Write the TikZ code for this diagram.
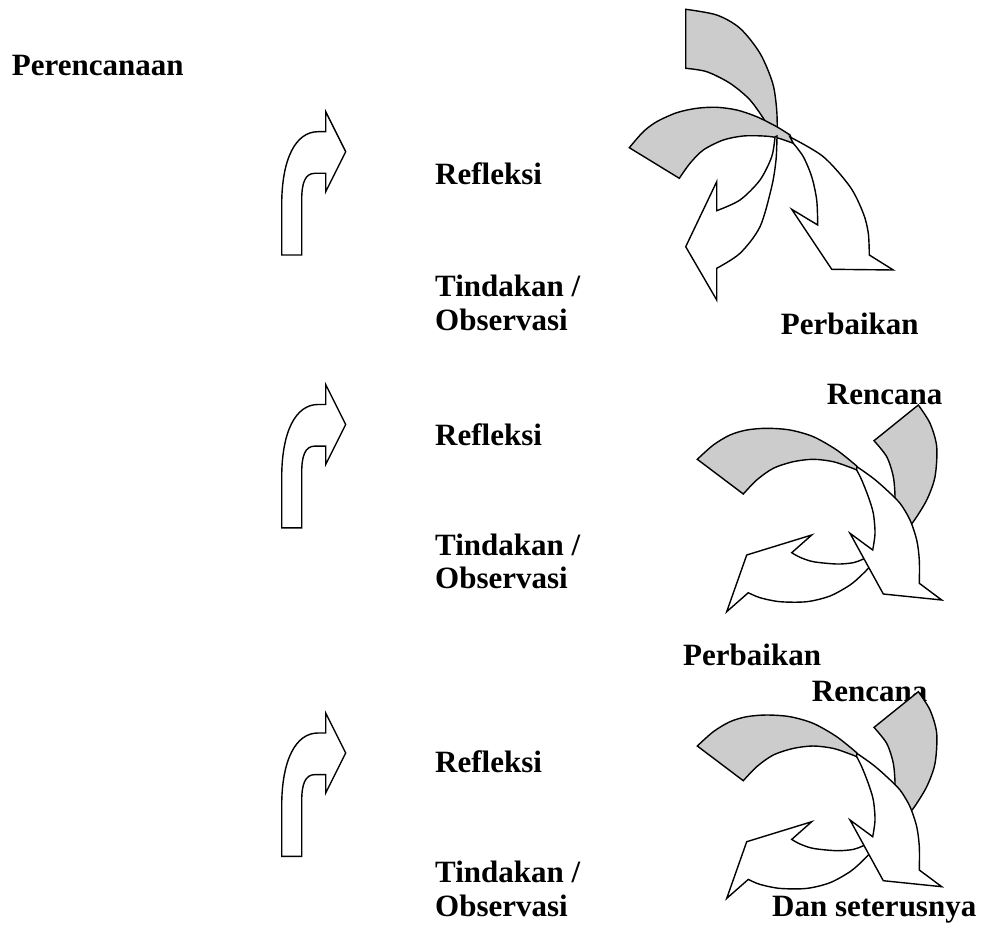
\documentclass[tikz,border=0pt]{standalone}
\usepackage{fontspec}
\setmainfont{Liberation Serif}
\definecolor{shadegray}{RGB}{204,204,204}
\newcommand\mybentarrow{%
  \filldraw[wfill] (281.7,255) -- (281.7,205) .. controls (281.7,158) and (296,131.7) .. (318,131.7)
    -- (325.7,131.7) -- (325.7,111.7) -- (345.7,151.7) -- (325.7,191.7) -- (325.7,173.3)
    -- (315,173.3) .. controls (305,173.3) and (301.7,183) .. (301.7,200) -- (301.7,255) -- cycle;}
\newcommand\myclustertwo{%
  % gray back of right arrow (D)
  \filldraw[gfill] (918.3,405) -- plot[smooth] coordinates {(918.3,405) (930,423.3) (936.7,446.7) (935,476.7) (926.7,500) (913.3,521.7) (905,530)}
    -- (893,510) -- plot[smooth] coordinates {(893,510) (895,498.3) (893.3,476.7) (886.7,456.7) (874,440.7)} -- cycle;
  % white front of arrow D
  \filldraw[wfill] (791.7,552.7) -- (811.7,535) -- (746.7,555) -- (726.7,611.7)
    -- plot[smooth] coordinates {(748.3,592.7) (760,597.7) (780,601.7) (806.7,601.7) (830,596) (850,585) (861.7,575) (868.3,568.3) (874,562)}
    -- (870,556) -- plot[smooth] coordinates {(870,556) (862.7,559.3) (853.3,562.7) (836.7,564) (813.3,561.7) (800,557.3) (791.7,552.7)} -- cycle;
  % gray back of arrow C
  \filldraw[gfill] (697.3,459.3) -- plot[smooth] coordinates {(697.3,459.3) (713.3,445) (730,435) (746.7,430) (766.7,428.3) (790,430) (813.3,436.7) (836.7,450) (856.7,466)}
    -- plot[smooth] coordinates {(856.7,470) (850,467.3) (833.3,461.7) (813.3,459.3) (793.3,461.7) (773.3,468.3) (756.7,480) (743.3,494)} -- cycle;
  % white front of arrow C
  \filldraw[wfill] plot[smooth] coordinates {(856.7,466.5) (873.3,478.3) (886.7,490) (900,503.3) (910,520) (916.7,540) (919.3,560) (919.3,583.3)}
    -- (941.7,600) -- (883.3,594) -- (850,533.3)
    -- plot[smooth] coordinates {(872.7,550) (875,533.3) (873.3,513.3) (868.3,496.7) (861.7,480) (856.7,470)} -- cycle;}
\begin{document}
\begin{tikzpicture}[x=1pt,y=-1pt,
  shp/.style={draw=black, line width=1.4pt, line join=miter},
  wfill/.style={shp, fill=white},
  gfill/.style={shp, fill=shadegray},
  lbl/.style={anchor=base west, inner sep=0pt, font=\fontsize{31}{34}\selectfont\bfseries}]
\fill[white] (0,0) rectangle (984,928);
\useasboundingbox (0,0) rectangle (984,928);

% left column
\node[lbl] (perenc) at (11.7,76) {Perencanaan};

\mybentarrow
\node[lbl] (refl1) at (435,185) {Refleksi};
\node[lbl] (tind1) at (435,296.7) {Tindakan /};
\node[lbl] (obs1) at (435,330) {Observasi};

\begin{scope}[shift={(0,272.8)}]
\mybentarrow
\end{scope}
\node[lbl] (refl2) at (435,445) {Refleksi};
\node[lbl] (tind2) at (435,555) {Tindakan /};
\node[lbl] (obs2) at (435,588.5) {Observasi};

\begin{scope}[shift={(0,601.3)}]
\mybentarrow
\end{scope}
\node[lbl] (refl3) at (435,772.6) {Refleksi};
\node[lbl] (tind3) at (435,882.6) {Tindakan /};
\node[lbl] (obs3) at (435,916) {Observasi};

% top cluster
\filldraw[gfill] plot[smooth] coordinates {(685.7,9.3) (716.7,15) (740,28.3) (760,53.3) (772.7,83.3) (776.7,110) (777.3,135)}
  -- plot[smooth] coordinates {(775,137) (766.7,123.3) (750,100) (730,83.3) (706.7,71.7) (685.7,68.3)} -- cycle;
\filldraw[gfill] (629.3,147.7) -- plot[smooth] coordinates {(629.3,147.7) (643.3,131.7) (656.7,121.7) (676.7,112.7) (696.7,108.3) (716.7,107.3) (736.7,110) (756.7,116.7) (776.7,126.7) (790,135)}
  -- plot[smooth] coordinates {(793.3,143.3) (776.7,137.7) (763.3,136) (743.3,136) (723.3,140) (703.3,150) (690,163.3) (679.3,178.3)} -- cycle;
\filldraw[wfill] plot[smooth] coordinates {(777,136) (776,160) (771.7,186.7) (760,226.7) (740,253.3) (716.7,268.3)}
  -- (716.7,300) -- (685.7,246.7) -- (716.7,181.7)
  -- plot[smooth] coordinates {(716.7,210.7) (740,200) (760,180) (771.7,156.7) (775,137)} -- cycle;
\filldraw[wfill] plot[smooth] coordinates {(790,137) (823.3,156.7) (850,186.7) (863.3,213.3) (868.3,233.3) (869.3,255)}
  -- (893.3,270) -- (831.7,269.3) -- (791.7,209.3)
  -- plot[smooth] coordinates {(817.7,225) (816.7,200) (811.7,176.7) (803.3,156.7) (793.3,143.3)} -- cycle;
\node[lbl] (perb1) at (780.7,334.3) {Perbaikan};

% middle cluster
\node[lbl] (renc2) at (826.7,404) {Rencana};
\myclustertwo

% bottom cluster
\node[lbl] (perb2) at (683,665) {Perbaikan};
\node[lbl] (renc3) at (811.7,701.7) {Rencana};
\begin{scope}[shift={(0,286.7)}]
\myclustertwo
\end{scope}
\node[lbl] (dan) at (772,916) {Dan seterusnya};
\end{tikzpicture}
\end{document}
